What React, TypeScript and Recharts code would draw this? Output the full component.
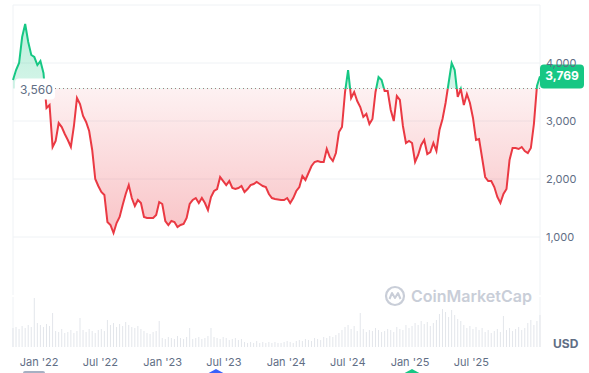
import { ComposedChart, Area, Bar, XAxis, YAxis, CartesianGrid, ReferenceLine, ReferenceDot } from 'recharts'

// ETH / USD, one sample every 9 days starting mid Oct 2021
const START_DATE = '2021-10-16'
const STEP_DAYS = 9
const BASELINE = 3560

const prices = [
  3707, 3879, 4000, 4448, 4672, 4362, 4138, 4103, 3965, 4034,
  3827, 3224, 3276, 2552, 2655, 2965, 2896, 2776, 2672, 2552,
  2914, 3396, 3293, 3086, 2983, 2827, 2500, 2000, 1879, 1776,
  1724, 1259, 1207, 1069, 1241, 1345, 1552, 1741, 1896, 1672,
  1534, 1638, 1586, 1345, 1327, 1327, 1327, 1379, 1603, 1569,
  1276, 1207, 1276, 1259, 1172, 1207, 1224, 1327, 1569, 1638,
  1672, 1586, 1672, 1586, 1465, 1690, 1793, 1827, 2034, 1965,
  1896, 1965, 1845, 1827, 1845, 1879, 1776, 1827, 1896, 1914,
  1948, 1914, 1879, 1862, 1741, 1672, 1655, 1647, 1638, 1638,
  1672, 1586, 1672, 1793, 1862, 2051, 1983, 2103, 2224, 2293,
  2310, 2293, 2293, 2517, 2379, 2310, 2448, 2810, 2896, 3500,
  3879, 3396, 3500, 3345, 3241, 3069, 3121, 2948, 3034, 3500,
  3758, 3707, 3517, 3517, 3190, 2999, 3431, 3362, 2914, 2621,
  2655, 2621, 2293, 2414, 2586, 2672, 2431, 2465, 2621, 2483,
  2845, 3034, 3310, 3655, 4000, 3879, 3414, 3552, 3276, 3465,
  3310, 3052, 2672, 2690, 2362, 2034, 1965, 1965, 1862, 1690,
  1586, 1741, 1827, 2327, 2534, 2534, 2517, 2552, 2483, 2448,
  2534, 2948, 3603, 3769,
]

// 24h volume, billions USD
const volumes = [
  19, 20, 18, 21, 19, 22, 20, 49, 24, 22,
  20, 23, 21, 34, 16, 15, 18, 14, 15, 17,
  14, 16, 29, 17, 15, 18, 16, 14, 17, 18,
  16, 27, 22, 24, 20, 23, 21, 25, 22, 20,
  19, 21, 18, 16, 14, 13, 15, 16, 26, 9,
  8, 10, 9, 8, 11, 9, 8, 10, 19, 8,
  9, 10, 8, 9, 11, 19, 10, 9, 8, 10,
  9, 7, 8, 9, 7, 8, 5, 4, 5, 4,
  6, 4, 5, 4, 5, 4, 5, 4, 4, 5,
  6, 5, 4, 6, 7, 6, 8, 7, 6, 9,
  8, 7, 10, 9, 11, 10, 12, 14, 17, 20,
  22, 18, 21, 16, 34, 18, 15, 17, 16, 19,
  17, 15, 16, 18, 17, 15, 20, 18, 17, 22,
  19, 21, 24, 22, 26, 23, 25, 21, 24, 27,
  33, 38, 35, 30, 37, 32, 28, 26, 22, 19,
  21, 18, 20, 17, 19, 15, 17, 14, 16, 18,
  15, 31, 17, 19, 16, 18, 20, 17, 19, 24,
  27, 22, 26, 32,
]

const tickDates = ['2022-01-01', '2022-07-01', '2023-01-01', '2023-07-01', '2024-01-01', '2024-07-01', '2025-01-01', '2025-07-01']
const tickLabels = ["Jan '22", "Jul '22", "Jan '23", "Jul '23", "Jan '24", "Jul '24", "Jan '25", "Jul '25"]
const priceTicks = [1000, 2000, 3000, 4000]
const gridValues = [0, 1000, 2000, 3000, 4000, 5000]

const GREEN = '#16c784'
const RED = '#ea3943'
const GRID = '#eff2f5'
const TEXT = '#616e85'
const FONT = 'Inter, sans-serif'

const DAY = 86400000
const data = prices.map((price, i) => ({ t: i * STEP_DAYS, price, volume: volumes[i] }))
const xMax = (prices.length - 1) * STEP_DAYS
const xTicks = tickDates.map((d) => (Date.parse(d) - Date.parse(START_DATE)) / DAY)
const labelFor = (v: number) => tickLabels[xTicks.indexOf(v)] ?? ''

const maxP = Math.max(...prices)
const minP = Math.min(...prices)
const split = (maxP - BASELINE) / (maxP - minP)
const last = data[data.length - 1]

function BaselineLabel(props: any) {
  const { viewBox } = props
  if (!viewBox) return null
  return (
    <g>
      <rect x={viewBox.x + 2} y={viewBox.y - 10} width={40} height={21} rx={4} fill="#fff" />
      <text x={viewBox.x + 7} y={viewBox.y + 5} fill={TEXT} fontSize={12} fontFamily={FONT}>
        {BASELINE.toLocaleString('en-US')}
      </text>
    </g>
  )
}

function PriceBadge(props: any) {
  const { cx, cy } = props
  if (cx == null || cy == null) return null
  return (
    <g>
      <rect x={cx} y={cy - 12} width={44} height={24} rx={4} fill={GREEN} />
      <text x={cx + 22} y={cy + 4} textAnchor="middle" fill="#fff" fontSize={12} fontWeight={700} fontFamily={FONT}>
        {last.price.toLocaleString('en-US')}
      </text>
    </g>
  )
}

function Watermark() {
  return (
    <div style={{ position: 'absolute', left: 384, top: 285, display: 'flex', alignItems: 'center', gap: 5, color: '#c9ced8', fontFamily: FONT, fontWeight: 600, fontSize: 16 }}>
      <svg width={22} height={22} viewBox="0 0 22 22">
        <circle cx={11} cy={11} r={9} fill="none" stroke="#c9ced8" strokeWidth={2.2} />
        <path d="M5.5 14 L8 8 L11 13 L14 8 L16.5 14" fill="none" stroke="#c9ced8" strokeWidth={2} strokeLinejoin="round" />
      </svg>
      <span>CoinMarketCap</span>
    </div>
  )
}

export default function App() {
  return (
    <div style={{ position: 'absolute', left: 0, top: 0, width: 589, height: 373, background: '#fff', overflow: 'hidden', fontFamily: FONT }}>
      <ComposedChart width={589} height={300} data={data} margin={{ top: 5, right: 0, bottom: 5, left: 13 }}>
        <defs>
          <linearGradient id="strokeGrad" x1="0" y1="0" x2="0" y2="1">
            <stop offset={split} stopColor={GREEN} />
            <stop offset={split} stopColor={RED} />
          </linearGradient>
          <linearGradient id="fillGrad" x1="0" y1="0" x2="0" y2="1">
            <stop offset={0} stopColor={GREEN} stopOpacity={0.3} />
            <stop offset={split} stopColor={GREEN} stopOpacity={0.18} />
            <stop offset={split} stopColor={RED} stopOpacity={0.07} />
            <stop offset={1} stopColor={RED} stopOpacity={0.3} />
          </linearGradient>
        </defs>
        <CartesianGrid stroke={GRID} horizontalValues={gridValues} verticalValues={[0, xMax]} />
        <XAxis dataKey="t" type="number" domain={[0, xMax]} hide />
        <YAxis
          orientation="right"
          domain={[0, 5000]}
          ticks={priceTicks}
          width={49}
          axisLine={false}
          tickLine={false}
          tickMargin={0}
          tick={{ fill: TEXT, fontSize: 11, fontFamily: FONT }}
          tickFormatter={(v: number) => v.toLocaleString('en-US')}
        />
        <Area
          type="linear"
          dataKey="price"
          baseValue={BASELINE}
          stroke="url(#strokeGrad)"
          strokeWidth={2}
          fill="url(#fillGrad)"
          fillOpacity={1}
          dot={false}
          activeDot={false}
          isAnimationActive={false}
        />
        <ReferenceLine y={BASELINE} stroke="#a27a7c" strokeDasharray="1 3" label={<BaselineLabel />} />
        <ReferenceDot x={last.t} y={last.price} shape={<PriceBadge />} />
      </ComposedChart>
      <div style={{ position: 'absolute', left: 0, top: 295 }}>
        <ComposedChart width={589} height={78} data={data} margin={{ top: 2, right: 0, bottom: 0, left: 13 }}>
          <CartesianGrid stroke={GRID} horizontal={false} verticalValues={[0, xMax]} />
          <XAxis
            dataKey="t"
            type="number"
            domain={[0, xMax]}
            ticks={xTicks}
            tickFormatter={labelFor}
            axisLine={false}
            tickLine={false}
            tickMargin={5}
            height={26}
            tick={{ fill: TEXT, fontSize: 11, fontFamily: FONT }}
          />
          <YAxis orientation="right" domain={[0, 50]} width={49} tick={false} axisLine={false} tickLine={false} />
          <Bar dataKey="volume" fill="#e3e6eb" barSize={1} isAnimationActive={false} />
        </ComposedChart>
      </div>
      <Watermark />
      <span style={{ position: 'absolute', left: 553, top: 336, fontSize: 12, fontWeight: 700, color: TEXT }}>USD</span>
      <div style={{ position: 'absolute', left: 23, top: 371, width: 22, height: 4, borderRadius: 2, background: '#a6b0c3' }} />
      <div style={{ position: 'absolute', left: 205, top: 369, width: 0, height: 0, borderLeft: '11px solid transparent', borderRight: '11px solid transparent', borderBottom: '6px solid #3861fb' }} />
      <div style={{ position: 'absolute', left: 401, top: 369, width: 0, height: 0, borderLeft: '11px solid transparent', borderRight: '11px solid transparent', borderBottom: '6px solid #16c784' }} />
    </div>
  )
}
